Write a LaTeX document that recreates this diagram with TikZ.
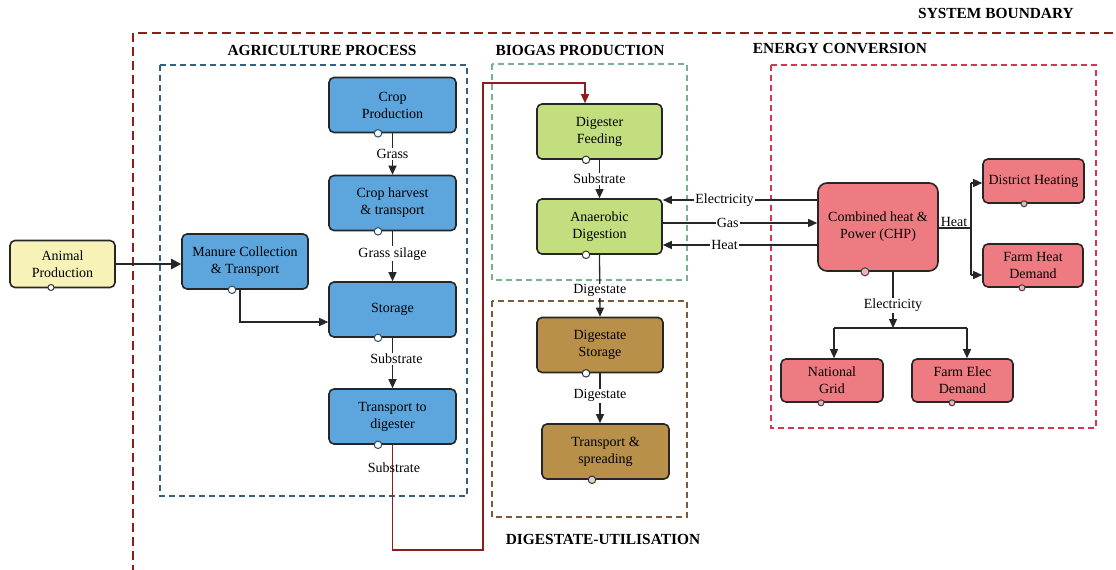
\documentclass[tikz,border=0pt]{standalone}
\usepackage{fontspec}
\setmainfont{Liberation Serif}
\usetikzlibrary{arrows.meta,calc}
\definecolor{agblue}{HTML}{5DA5DD}
\definecolor{bggreen}{HTML}{C3DE7E}
\definecolor{dgbrown}{HTML}{B8904A}
\definecolor{ecred}{HTML}{EF7B82}
\definecolor{anyel}{HTML}{F6F2B8}
\definecolor{dblue}{HTML}{34607F}
\definecolor{dgreen}{HTML}{77B28C}
\definecolor{dbrown}{HTML}{7A5C3A}
\definecolor{dred}{HTML}{D8344F}
\definecolor{sysred}{HTML}{8E1E1E}
\newcommand{\nodefont}{\fontsize{14}{17}\selectfont}
\newcommand{\titlefont}{\fontsize{15.4}{18}\selectfont\bfseries}
\tikzset{
  box/.style={draw=black!85, line width=1.6pt, rounded corners=5pt, align=center,
    font=\nodefont, inner sep=2pt},
  agbox/.style={box, fill=agblue, minimum width=127pt, minimum height=55pt},
  bgbox/.style={box, fill=bggreen, minimum width=125pt, minimum height=55pt},
  dgbox/.style={box, fill=dgbrown, minimum width=126pt, minimum height=55pt},
  ecbox/.style={box, fill=ecred, minimum width=101pt, minimum height=44pt},
  port/.style={circle, draw=black!80, fill=white, line width=1pt, minimum size=7.5pt, inner sep=0pt},
  sport/.style={port, minimum size=6pt, draw=black!75, fill=ecred!60},
  region/.style={line width=1.4pt, dash pattern=on 6pt off 4pt},
  title/.style={font=\titlefont},
  lbl/.style={font=\nodefont, fill=white, inner sep=1pt},
  conn/.style={line width=1.3pt, draw=black!85, -{Triangle[length=9pt,width=8pt]}},
  plain/.style={line width=1.3pt, draw=black!85},
}
\begin{document}
\begin{tikzpicture}[x=1pt,y=-1pt]
\useasboundingbox (0,0) rectangle (1116,570);
\begin{scope}
\clip (0,0) rectangle (1116,570);
\draw[sysred, line width=2.2pt, dash pattern=on 9pt off 5pt] (133,33) rectangle (1130,590);
\end{scope}
\node[title] (tsys) at (996,13) {SYSTEM BOUNDARY};

% region boxes
\draw[region, dblue] (160,65) rectangle (467,496);
\draw[region, dgreen] (492,64) rectangle (687,280);
\draw[region, dbrown] (492,301) rectangle (687,517);
\draw[region, dred] (771,65) rectangle (1096,428);
\node[title] (tagr) at (322,50) {AGRICULTURE PROCESS};
\node[title] (tbio) at (580,50) {BIOGAS PRODUCTION};
\node[title] (tene) at (840,49) {ENERGY CONVERSION};
\node[title] (tdig) at (603,539) {DIGESTATE-UTILISATION};

% nodes
\node[box, fill=anyel, minimum width=105pt, minimum height=47pt] (animal) at (62.5,264) {Animal\\Production};
\node[agbox] (crop) at (392.5,105) {Crop\\Production};
\node[agbox] (harv) at (392.5,203) {Crop harvest\\\& transport};
\node[agbox, minimum width=126pt] (manure) at (245,261.5) {Manure Collection\\\& Transport};
\node[agbox] (stor) at (392.5,309.5) {Storage};
\node[agbox] (trans) at (392.5,416.5) {Transport to\\digester};
\node[bgbox] (feed) at (599.5,131.5) {Digester\\Feeding};
\node[bgbox] (ad) at (599.5,226.5) {Anaerobic\\Digestion};
\node[dgbox] (dstor) at (600,345) {Digestate\\Storage};
\node[dgbox, minimum width=127pt] (spread) at (605.5,451.5) {Transport \&\\spreading};
\node[box, fill=ecred, rounded corners=9pt, minimum width=120pt, minimum height=88pt] (chp) at (878,227) {Combined heat \&\\Power (CHP)};
\node[ecbox] (dh) at (1033.5,181) {District Heating};
\node[ecbox, minimum width=100pt, minimum height=43pt] (fh) at (1033,265.5) {Farm Heat\\Demand};
\node[ecbox, minimum height=43pt, minimum width=102pt] (ng) at (832,380.5) {National\\Grid};
\node[ecbox, minimum height=43pt] (fe) at (962.5,380.5) {Farm Elec\\Demand};

% ports
\node[port, minimum size=6pt] (p0) at (51,287.5) {};
\node[port, draw=dblue!80!black] (p1) at ([xshift=-14.5pt]crop.south) {};
\node[port, draw=dblue!80!black] (p2) at ([xshift=-14.5pt]harv.south) {};
\node[port, draw=dblue!80!black] (p3) at ([xshift=-13pt]manure.south) {};
\node[port, draw=dblue!80!black] (p4) at ([xshift=-14.5pt]stor.south) {};
\node[port, draw=dblue!80!black] (p5) at ([xshift=-14.5pt]trans.south) {};
\node[port] (p6) at ([xshift=-13.5pt]feed.south) {};
\node[port] (p7) at ([xshift=-13.5pt]ad.south) {};
\node[port] (p8) at ([xshift=-14pt]dstor.south) {};
\node[port, fill=dgbrown!40] (p9) at ([xshift=-13.5pt]spread.south) {};
\node[sport, minimum size=8pt] (p10) at ([xshift=-13pt]chp.south) {};
\node[sport] (p11) at ([xshift=-9.5pt]dh.south) {};
\node[sport] (p12) at ([xshift=-11pt]fh.south) {};
\node[sport] (p13) at ([xshift=-11pt]ng.south) {};
\node[sport] (p14) at ([xshift=-10.5pt]fe.south) {};

% agriculture connectors
\draw[conn, line width=2.4pt, -{Triangle[length=10pt,width=10pt]}] (animal.east) -- (animal.east -| manure.west);
\draw[conn] (crop.south) -- node[lbl] (lgrass) {Grass} (harv.north);
\draw[conn] (harv.south) -- node[lbl, pos=0.45] (lsil) {Grass silage} (stor.north);
\draw[conn] ([xshift=-5pt]manure.south) |- ([yshift=-12.5pt]stor.west);
\draw[conn] (stor.south) -- node[lbl, pos=0.42, xshift=4pt] (lsub1) {Substrate} (trans.north);
\coordinate (r1) at (392.5,550);
\coordinate (r2) at (483,83);
\draw[line width=1.4pt, sysred, -{Triangle[length=9pt,width=8pt]}] (trans.south) -- (r1) -| (r2) -| ([xshift=-14.5pt]feed.north);
\node[lbl, fill=none] (lsub2) at (394,468) {Substrate};

% biogas connectors
\draw[conn] (feed.south) -- node[lbl, pos=0.5] (lsub3) {Substrate} (ad.north);
\draw[conn] (ad.south) -- node[lbl, pos=0.58] (ldig1) {Digestate} (dstor.north);
\draw[conn] (dstor.south) -- node[lbl, pos=0.45] (ldig2) {Digestate} (dstor.south |- spread.north);

% energy links
\coordinate (ye) at (0,200);
\coordinate (yg) at (0,223);
\coordinate (yh) at (0,245);
\draw[conn] (chp.west |- ye) -- node[lbl, pos=0.60] (lel) {Electricity} (ad.east |- ye);
\draw[conn] (ad.east |- yg) -- node[lbl, pos=0.42] (lgas) {Gas} (chp.west |- yg);
\draw[conn] (chp.west |- yh) -- node[lbl, pos=0.60] (lheat) {Heat} (ad.east |- yh);

% heat distribution
\coordinate (hx) at (971,228);
\coordinate (hxt) at (971,183);
\coordinate (hxb) at (971,275);
\draw[plain] (chp.east |- hx) -- (hx);
\node[font=\nodefont, anchor=south] (lheat2) at (954,230) {Heat};
\draw[plain] (hxt) -- (hxb);
\draw[conn] (hxt) -- (dh.west |- hxt);
\draw[conn] (hxb) -- (fh.west |- hxb);

% electricity distribution
\coordinate (ex) at (893,328);
\coordinate (exl) at (834,328);
\coordinate (exr) at (967,328);
\draw[conn] ([xshift=15pt]chp.south) -- node[lbl, pos=0.6] (lel2) {Electricity} (ex);
\draw[plain] (exl) -- (exr);
\draw[conn] (exl) -- (exl |- ng.north);
\draw[conn] (exr) -- (exr |- fe.north);
\end{tikzpicture}
\end{document}
